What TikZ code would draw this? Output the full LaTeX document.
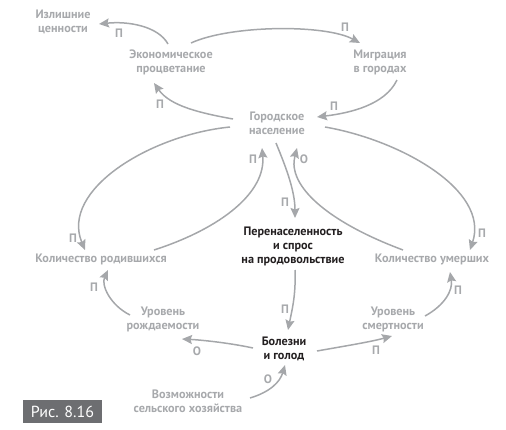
\documentclass[tikz,border=0pt]{standalone}
\usepackage{fontspec}
\setmainfont{PT Sans}
\usetikzlibrary{arrows.meta,calc}
\definecolor{lg}{HTML}{A7A9AC}
\definecolor{ar}{HTML}{A5A7AA}
\definecolor{dk}{HTML}{231F20}
\definecolor{boxg}{HTML}{6D6E71}
\begin{document}
\begin{tikzpicture}[x=1pt,y=-1pt,
  lbl/.style={font=\bfseries\fontsize{12.2}{14}\selectfont, text=lg, align=center, inner sep=0pt},
  dlbl/.style={lbl, text=dk},
  sgn/.style={font=\bfseries\fontsize{12.2}{13}\selectfont, text=lg, inner sep=0pt},
  con/.style={draw=ar, line width=1.5pt, -{Stealth[length=10pt,width=9pt,inset=1.5pt]}}]
\useasboundingbox (0,0) rectangle (506,429);
% nodes
\node[lbl] (izl) at (63,22) {Излишние\\ценности};
\node[lbl] (eco) at (171,62) {Экономическое\\процветание};
\node[lbl] (mig) at (380,62) {Миграция\\в городах};
\node[lbl] (gor) at (277,123) {Городское\\население};
\node[dlbl] (per) at (293,246) {Перенаселенность\\и спрос\\на продовольствие};
\node[lbl] (rod) at (101,259) {Количество родившихся};
\node[lbl] (umer) at (432,259) {Количество умерших};
\node[lbl] (rozhd) at (163,319) {Уровень\\рождаемости};
\node[lbl] (smert) at (393,319) {Уровень\\смертности};
\node[dlbl] (bol) at (284,349) {Болезни\\и голод};
\node[lbl] (voz) at (188,401) {Возможности\\сельского хозяйства};
\fill[boxg] (23,400) rectangle (102,423);
\node[font=\fontsize{16}{18}\selectfont, text=white, inner sep=0pt] (fig) at (62.5,411.5) {Рис. 8.16};
% connectors
\draw[con] ($(eco)+(-3,-18)$) .. controls (158,26) and (128,21) .. ($(izl)+(36,2)$);
\draw[con] ($(eco)+(20,-19)$) .. controls (230,25) and (325,24) .. ($(mig)+(-20,-19)$);
\draw[con] ($(mig)+(17,18)$) .. controls (385,105) and (350,113) .. ($(gor)+(40,-6)$);
\draw[con] ($(gor)+(-44,-4)$) .. controls (200,113) and (170,106) .. ($(eco)+(-17,21)$);
\draw[con] ($(gor)+(-47,4)$) .. controls (150,135) and (60,190) .. ($(rod)+(-16,-9)$);
\draw[con] ($(rod)+(53,-9)$) .. controls (222,228) and (266,192) .. ($(gor)+(-15,25)$);
\draw[con] ($(gor)+(-1,20)$) .. controls (285,165) and (295,190) .. ($(per)+(2,-28)$);
\draw[con] ($(umer)+(-29,-9)$) .. controls (328,222) and (287,186) .. ($(gor)+(20,25)$);
\draw[con] ($(gor)+(48,4)$) .. controls (400,140) and (490,190) .. ($(umer)+(38,-9)$);
\draw[con] ($(per)+(2,24)$) .. controls (296,295) and (292,310) .. ($(bol)+(4,-19)$);
\draw[con] ($(bol)+(33,2)$) .. controls (345,346) and (370,342) .. ($(smert)+(-1,17)$);
\draw[con] ($(smert)+(32,-3)$) .. controls (445,305) and (453,290) .. ($(umer)+(18,13)$);
\draw[con] ($(bol)+(-31,-1)$) .. controls (230,343) and (202,340) .. ($(rozhd)+(19,20)$);
\draw[con] ($(rozhd)+(-33,-4)$) .. controls (110,305) and (101,285) .. ($(rod)+(7,11)$);
\draw[con] ($(voz)+(62,-3)$) .. controls (270,392) and (280,382) .. ($(bol)+(1,16)$);
% signs
\node[sgn] (l1) at (119,33) {П};
\node[sgn] (l2) at (345,27) {П};
\node[sgn] (l3) at (334,106) {П};
\node[sgn] (l4) at (160,104) {П};
\node[sgn] (l5) at (73,238) {П};
\node[sgn] (l6) at (253,159) {П};
\node[sgn] (l7) at (285,202) {П};
\node[sgn] (l8) at (304,159) {О};
\node[sgn] (l9) at (482,233) {П};
\node[sgn] (l10) at (285,309) {П};
\node[sgn] (l11) at (376,350) {П};
\node[sgn] (l12) at (458,290) {П};
\node[sgn] (l13) at (197,351) {О};
\node[sgn] (l14) at (94,287) {П};
\node[sgn] (l15) at (268,379) {О};
\end{tikzpicture}
\end{document}
